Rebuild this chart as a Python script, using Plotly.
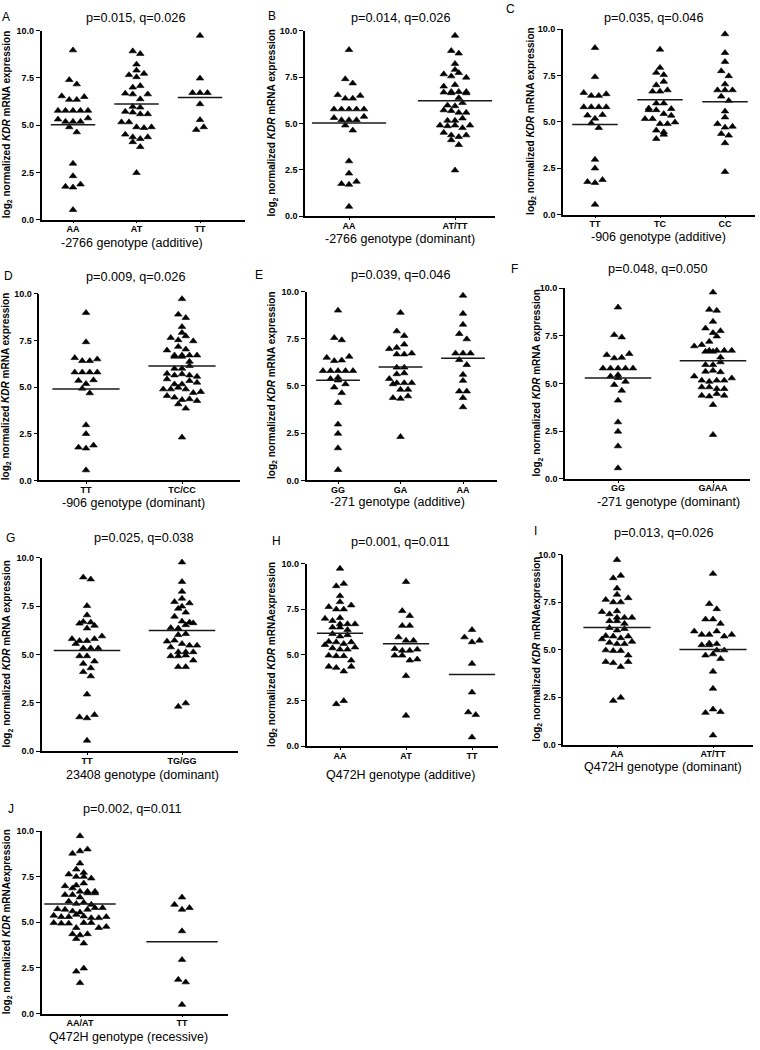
import plotly.graph_objects as go

W, H = 760, 1050
FONT = "Liberation Sans, Arial, Helvetica, sans-serif"

# ---------------- data (log2 normalized KDR mRNA expression) ----------------
g2766_AA = [8.97, 7.40, 7.17, 6.54, 6.35, 6.35, 6.50, 5.77, 5.77, 5.77, 5.77, 5.77,
            5.31, 5.19, 5.19, 5.19, 5.37, 4.90, 4.63, 2.97, 2.31, 1.75, 1.71, 1.87, 0.52]
g2766_AT = [8.92, 8.78, 8.22, 7.90, 7.66, 7.55, 7.73, 7.00, 7.08, 6.68, 6.64, 6.38, 6.64,
            5.98, 5.94, 5.72, 5.68, 5.59, 5.59, 5.16, 5.16, 4.90, 4.86, 4.90, 4.51, 4.37,
            4.28, 4.37, 4.11, 3.85, 2.48]
g2766_TT = [9.74, 7.48, 6.71, 6.71, 6.71, 6.12, 5.28, 4.76, 4.90]

g906_TT = [8.99, 7.42, 6.57, 6.41, 6.41, 6.50, 5.80, 5.80, 5.80, 5.80, 5.35, 5.18, 5.38,
           4.93, 4.68, 2.97, 2.50, 1.77, 1.72, 1.88, 0.55]
g906_TC = [8.90, 7.92, 7.65, 7.53, 6.98, 7.17, 6.64, 6.64, 6.71, 5.73, 5.64, 6.00, 6.00,
           5.70, 5.64, 5.43, 5.16, 5.16, 5.34, 4.89, 4.89, 4.98, 4.54, 4.45, 4.09, 4.32]
g906_CC = [9.73, 8.72, 8.24, 7.74, 7.47, 7.03, 6.71, 6.71, 6.71, 6.37, 6.14, 5.57, 5.25,
           4.89, 4.70, 4.75, 4.36, 4.27, 3.86, 2.31]

g271_GG = [9.00, 7.55, 7.43, 6.50, 6.33, 6.36, 6.56, 5.80, 5.80, 5.80, 5.80, 5.80, 5.45,
           5.38, 5.30, 4.93, 5.10, 4.63, 4.11, 2.97, 2.48, 1.71, 0.56]
g271_GA = [8.88, 7.90, 7.66, 6.96, 7.03, 7.20, 6.68, 6.68, 6.73, 5.98, 5.98, 5.63, 5.68,
           5.38, 5.16, 5.10, 5.16, 5.16, 4.81, 4.81, 4.37, 4.33, 4.46, 2.31]
g271_AA = [9.79, 8.83, 8.25, 7.76, 7.48, 6.73, 6.73, 6.73, 6.38, 6.12, 5.60, 5.28, 4.72,
           4.72, 4.37, 3.88]

g23408_TT = [9.00, 8.90, 7.52, 7.04, 6.70, 6.61, 6.36, 6.50, 6.67, 5.81, 5.71, 5.71, 5.81,
             5.95, 5.56, 5.33, 5.33, 5.33, 4.92, 4.92, 4.65, 4.53, 4.30, 4.10, 3.88, 2.94,
             1.76, 1.71, 1.88, 0.55]
g23408_TGGG = [9.78, 8.77, 8.26, 7.90, 7.73, 7.49, 7.38, 7.66, 6.97, 7.18, 6.72, 6.67, 6.38,
               6.36, 6.53, 6.63, 6.02, 6.07, 5.68, 5.73, 5.56, 5.47, 5.47, 5.38, 5.13, 5.13,
               5.13, 4.92, 4.92, 4.96, 4.70, 4.36, 4.36, 2.31, 2.48]

gQ472H_AA = [9.73, 8.77, 8.90, 8.23, 7.90, 7.63, 7.50, 7.50, 7.72, 7.03, 6.99, 6.87, 6.69,
             6.69, 6.51, 6.51, 6.69, 6.37, 6.15, 6.02, 6.09, 5.73, 5.70, 5.61, 5.55, 5.70,
             5.37, 5.30, 5.30, 5.42, 4.97, 4.94, 4.94, 4.70, 4.36, 4.30, 4.10, 4.36, 2.31, 2.48]
gQ472H_AT = [9.00, 7.41, 7.14, 6.60, 6.60, 5.97, 5.79, 5.79, 5.33, 5.24, 5.24, 5.30, 4.97,
             4.97, 4.70, 4.76, 3.85, 1.68]
gQ472H_TT = [6.37, 5.97, 5.70, 5.79, 4.52, 2.95, 1.86, 1.72, 0.49]

# group means (horizontal lines)
means_A = [5.03, 6.12, 6.47]
means_B = [5.03, 6.23]
means_C = [4.86, 6.19, 6.09]
means_D = [4.90, 6.14]
means_E = [5.30, 6.01, 6.47]
means_F = [5.29, 6.20]
means_G = [5.21, 6.24]
means_H = [6.18, 5.61, 3.93]
means_I = [6.17, 5.01]
means_J = [6.00, 3.94]

y_ticks = [0, 2.5, 5, 7.5, 10]
y_ticklabels = ["0.0", "2.5", "5.0", "7.5", "10.0"]

YLAB1 = "<b>log<sub>2</sub> normalized <i>KDR</i> mRNA expression</b>"
YLAB2 = "<b>log<sub>2</sub> normalized <i>KDR</i> mRNAexpression</b>"

panels = [
    dict(letter="A", title="p=0.015, q=0.026", xtitle="-2766 genotype (additive)",
         cats=["AA", "AT", "TT"], groups=[g2766_AA, g2766_AT, g2766_TT], means=means_A, ylab=YLAB1,
         geo=dict(x0=41.7, x1=245, yt=26, yb=216.7, cf=73, cl=200, yx=7, tx=135, ty=13,
                  lx=6, ly=12, xx=132, xy=240)),
    dict(letter="B", title="p=0.014, q=0.026", xtitle="-2766 genotype (dominant)",
         cats=["AA", "AT/TT"], groups=[g2766_AA, g2766_AT + g2766_TT], means=means_B, ylab=YLAB1,
         geo=dict(x0=305, x1=495, yt=26, yb=213.3, cf=349, cl=455, yx=272, tx=400, ty=13,
                  lx=272, ly=11, xx=400, xy=236)),
    dict(letter="C", title="p=0.035, q=0.046", xtitle="-906 genotype (additive)",
         cats=["TT", "TC", "CC"], groups=[g906_TT, g906_TC, g906_CC], means=means_C, ylab=YLAB1,
         geo=dict(x0=563, x1=755, yt=24.3, yb=211.7, cf=595, cl=725, yx=531, tx=653, ty=13,
                  lx=510, ly=4, xx=658, xy=234)),
    dict(letter="D", title="p=0.009, q=0.026", xtitle="-906 genotype (dominant)",
         cats=["TT", "TC/CC"], groups=[g906_TT, g906_TC + g906_CC], means=means_D, ylab=YLAB1,
         geo=dict(x0=39.3, x1=240, yt=291.7, yb=480, cf=86, cl=182, yx=6, tx=135, ty=275,
                  lx=8, ly=274, xx=133, xy=503)),
    dict(letter="E", title="p=0.039, q=0.046", xtitle="-271 genotype (additive)",
         cats=["GG", "GA", "AA"], groups=[g271_GG, g271_GA, g271_AA], means=means_E, ylab=YLAB1,
         geo=dict(x0=306.7, x1=497, yt=289.3, yb=480, cf=338, cl=463, yx=272, tx=400, ty=273,
                  lx=259, ly=273, xx=397, xy=502)),
    dict(letter="F", title="p=0.048, q=0.050", xtitle="-271 genotype (dominant)",
         cats=["GG", "GA/AA"], groups=[g271_GG, g271_GA + g271_AA], means=means_F, ylab=YLAB1,
         geo=dict(x0=565, x1=750, yt=286, yb=478.3, cf=618, cl=713, yx=537, tx=657, ty=267,
                  lx=514, ly=267, xx=668, xy=502)),
    dict(letter="G", title="p=0.025, q=0.038", xtitle="23408 genotype (dominant)",
         cats=["TT", "TG/GG"], groups=[g23408_TT, g23408_TGGG], means=means_G, ylab=YLAB1,
         geo=dict(x0=41.7, x1=238, yt=558.3, yb=753.3, cf=87, cl=182, yx=7, tx=143, ty=538,
                  lx=10, ly=538, xx=142, xy=777)),
    dict(letter="H", title="p=0.001, q=0.011", xtitle="Q472H genotype (additive)",
         cats=["AA", "AT", "TT"], groups=[gQ472H_AA, gQ472H_AT, gQ472H_TT], means=means_H, ylab=YLAB2,
         geo=dict(x0=306.7, x1=498, yt=564, yb=748.3, cf=340, cl=472, yx=272, tx=400, ty=542,
                  lx=276, ly=541, xx=400, xy=777)),
    dict(letter="I", title="p=0.013, q=0.026", xtitle="Q472H genotype (dominant)",
         cats=["AA", "AT/TT"], groups=[gQ472H_AA, gQ472H_AT + gQ472H_TT], means=means_I, ylab=YLAB2,
         geo=dict(x0=563.3, x1=753, yt=555, yb=746.7, cf=617, cl=713, yx=537, tx=663, ty=533,
                  lx=535, ly=531, xx=663, xy=769)),
    dict(letter="J", title="p=0.002, q=0.011", xtitle="Q472H genotype (recessive)",
         cats=["AA/AT", "TT"], groups=[gQ472H_AA + gQ472H_AT, gQ472H_TT], means=means_J, ylab=YLAB2,
         geo=dict(x0=41.7, x1=228, yt=834, yb=1018.3, cf=80, cl=182, yx=7, tx=132, ty=812,
                  lx=11, ly=812, xx=128, xy=1042)),
]

STEP_PX = 7.5     # horizontal spacing of points in a row (pixels)
ROW_THR = 0.30    # y-distance grouping points into one row (data units)


def swarm(values, center, step):
    order = sorted(range(len(values)), key=lambda i: values[i])
    rows = []
    for i in order:
        if rows and values[i] - values[rows[-1][0]] <= ROW_THR:
            rows[-1].append(i)
        else:
            rows.append([i])
    xs = [0.0] * len(values)
    for row in rows:
        row = sorted(row)
        n = len(row)
        for k, i in enumerate(row):
            xs[i] = center + (k - (n - 1) / 2) * step
    return xs


fig = go.Figure()
layout = dict(width=W, height=H, margin=dict(l=0, r=0, t=0, b=0),
              paper_bgcolor="white", plot_bgcolor="white", showlegend=False,
              font=dict(family=FONT, color="black"))
annotations = []

for k, p in enumerate(panels):
    g = p["geo"]
    n = len(p["cats"])
    ppu = (g["cl"] - g["cf"]) / (n - 1)
    xr = [-(g["cf"] - g["x0"]) / ppu, (n - 1) + (g["x1"] - g["cl"]) / ppu]
    step = STEP_PX / ppu
    suffix = "" if k == 0 else str(k + 1)
    xa, ya = "x" + suffix, "y" + suffix

    for ci, vals in enumerate(p["groups"]):
        fig.add_trace(go.Scatter(
            x=swarm(vals, ci, step), y=vals, mode="markers", xaxis=xa, yaxis=ya,
            marker=dict(symbol="triangle-up", size=6.6, color="black",
                        line=dict(color="black", width=0.6)),
            cliponaxis=False, hoverinfo="y"))
        m = p["means"][ci]
        fig.add_trace(go.Scatter(
            x=[ci - 0.35, ci + 0.35], y=[m, m], mode="lines", xaxis=xa, yaxis=ya,
            line=dict(color="#1a1a1a", width=1.5), hoverinfo="skip"))

    layout["xaxis" + suffix] = dict(
        domain=[g["x0"] / W, g["x1"] / W], range=xr, anchor=ya,
        tickvals=list(range(n)), ticktext=["<b>%s</b>" % c for c in p["cats"]],
        tickfont=dict(size=9, family=FONT), showline=True, linecolor="black", linewidth=1.6,
        ticks="outside", ticklen=2, tickwidth=1.4, tickcolor="black", ticklabelstandoff=-2,
        showgrid=False, zeroline=False, fixedrange=True)
    layout["yaxis" + suffix] = dict(
        domain=[1 - g["yb"] / H, 1 - g["yt"] / H], range=[0, 10], anchor=xa,
        tickvals=y_ticks, ticktext=["<b>%s</b>" % t for t in y_ticklabels],
        tickfont=dict(size=9, family=FONT), showline=True, linecolor="black", linewidth=1.6,
        ticks="outside", ticklen=4, tickwidth=1.4, tickcolor="black",
        showgrid=False, zeroline=False, fixedrange=True)

    yc = (g["yt"] + g["yb"]) / 2
    annotations += [
        dict(text=p["title"], x=g["tx"] / W, y=1 - g["ty"] / H, xref="paper", yref="paper",
             xanchor="center", yanchor="middle", showarrow=False,
             font=dict(size=12.7, family=FONT, color="black")),
        dict(text=p["letter"], x=g["lx"] / W, y=1 - g["ly"] / H, xref="paper", yref="paper",
             xanchor="center", yanchor="middle", showarrow=False,
             font=dict(size=12, family=FONT, color="black")),
        dict(text=p["xtitle"], x=g["xx"] / W, y=1 - g["xy"] / H, xref="paper", yref="paper",
             xanchor="center", yanchor="middle", showarrow=False,
             font=dict(size=12.5, family=FONT, color="black")),
        dict(text=p["ylab"], x=g["yx"] / W, y=1 - yc / H, xref="paper", yref="paper",
             xanchor="center", yanchor="middle", showarrow=False, textangle=-90,
             font=dict(size=10, family=FONT, color="black")),
    ]

layout["annotations"] = annotations
fig.update_layout(**layout)
fig.write_html("out.html", config={"displayModeBar": False},
               post_script="document.body.style.margin='0px';")
